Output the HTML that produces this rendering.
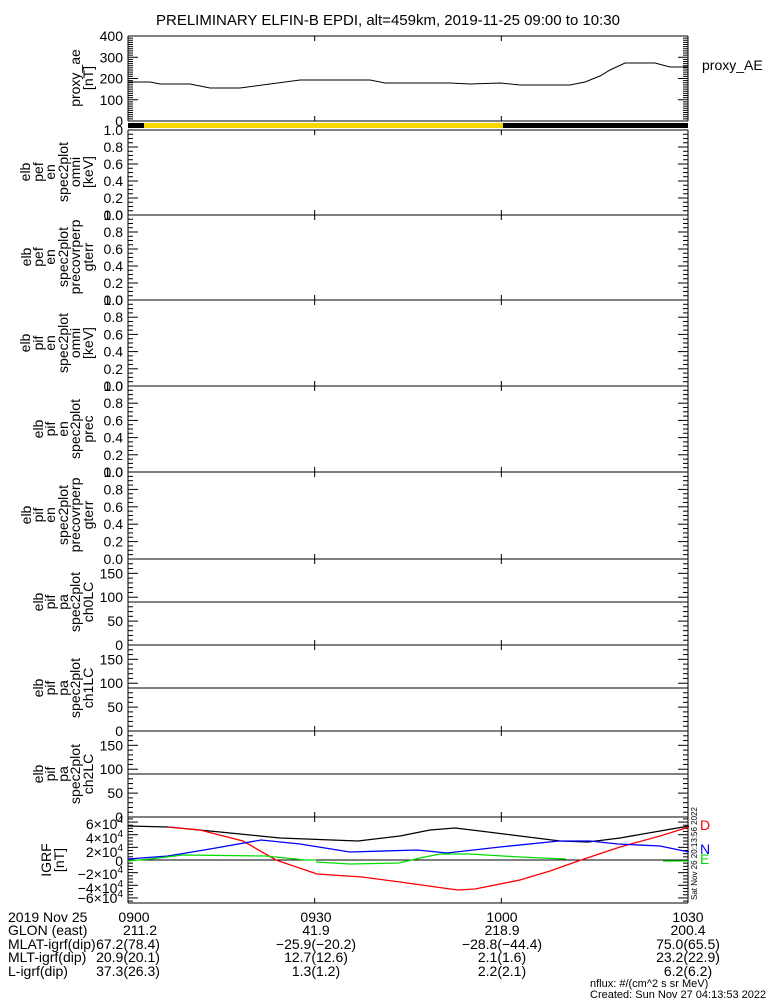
<!DOCTYPE html>
<html><head><meta charset="utf-8"><style>
body{margin:0;background:#fff}
svg{display:block;font-family:"Liberation Sans",sans-serif;font-size:14px}
</style></head><body>
<svg id="s" width="775" height="1000" viewBox="0 0 775 1000" xmlns="http://www.w3.org/2000/svg">
<rect width="775" height="1000" fill="#fff"/>
<text x="388" y="25" text-anchor="middle" font-size="15">PRELIMINARY ELFIN-B EPDI, alt=459km, 2019-11-25 09:00 to 10:30</text>
<g id="axes" stroke="#000" fill="none" stroke-width="1"></g>
<rect x="128" y="123" width="16" height="5" fill="#000"/>
<rect x="144" y="123" width="359" height="5" fill="#f5d800"/>
<rect x="503" y="123" width="185" height="5" fill="#000"/>
<polyline fill="none" stroke="#000" points="128,82 150,82 160,84 190,84 210,88 240,88 270,84 300,80 370,80 385,83 450,83 470,84 500,83 520,85 570,85 585,82 600,76 610,70 625,63 655,63 670,67 688,67"/>
<text x="702" y="70">proxy_AE</text>
<g stroke="#000"><line x1="128" x2="688" y1="602" y2="602"/><line x1="128" x2="688" y1="688" y2="688"/><line x1="128" x2="688" y1="774" y2="774"/><line x1="128" x2="688" y1="860" y2="860"/></g>
<g fill="none" stroke-width="1.3">
<polyline stroke="#000" points="128,826 168,827 220,832 280,838 358,841 400,836 430,830 455,828 480,831 520,836 560,841 588,842 620,838 660,831 689,826"/>
<polyline stroke="#f00" points="168,827 200,830 243,841 276,860 317,874 362,877 400,882 443,888 458,890 475,889 520,880 550,871 581,860 620,847 660,836 689,827"/>
<polyline stroke="#00f" points="128,859 168,856 210,849 261,840 300,844 350,852 417,850 447,853 500,847 559,841 590,841 618,844 660,846 689,852"/>
<polyline stroke="#0d0" points="128,861 150,859 183,855 265,856 306,860 316,860"/>
<polyline stroke="#0d0" points="316,862 350,864 399,863 420,858 440,854 470,854 520,857 566,859"/>
<polyline stroke="#0d0" points="663,861 689,861"/>
</g>
<text x="700" y="830" fill="#f00">D</text>
<text x="700" y="854" fill="#00f">N</text>
<text x="700" y="864" fill="#0d0">E</text>
<text transform="translate(697,900) rotate(-90)" font-size="8">Sat Nov 26 20:13:56 2022</text>
<g text-anchor="middle">
<text transform="translate(0,78) rotate(-90)"><tspan x="0" y="80">proxy_ae</tspan><tspan x="0" y="93">[nT]</tspan></text>
<text transform="translate(0,172) rotate(-90)"><tspan x="0" y="30">elb</tspan><tspan x="0" y="43">pef</tspan><tspan x="0" y="55">en</tspan><tspan x="0" y="68">spec2plot</tspan><tspan x="0" y="80">omni</tspan><tspan x="0" y="93">[keV]</tspan></text>
<text transform="translate(0,257) rotate(-90)"><tspan x="0" y="31">elb</tspan><tspan x="0" y="43">pef</tspan><tspan x="0" y="55">en</tspan><tspan x="0" y="68">spec2plot</tspan><tspan x="0" y="80">precovrperp</tspan><tspan x="0" y="93">gterr</tspan></text>
<text transform="translate(0,343) rotate(-90)"><tspan x="0" y="30">elb</tspan><tspan x="0" y="43">pif</tspan><tspan x="0" y="55">en</tspan><tspan x="0" y="68">spec2plot</tspan><tspan x="0" y="80">omni</tspan><tspan x="0" y="93">[keV]</tspan></text>
<text transform="translate(0,429) rotate(-90)"><tspan x="0" y="43">elb</tspan><tspan x="0" y="55">pif</tspan><tspan x="0" y="68">en</tspan><tspan x="0" y="80">spec2plot</tspan><tspan x="0" y="93">prec</tspan></text>
<text transform="translate(0,515) rotate(-90)"><tspan x="0" y="31">elb</tspan><tspan x="0" y="43">pif</tspan><tspan x="0" y="55">en</tspan><tspan x="0" y="68">spec2plot</tspan><tspan x="0" y="80">precovrperp</tspan><tspan x="0" y="93">gterr</tspan></text>
<text transform="translate(0,602) rotate(-90)"><tspan x="0" y="43">elb</tspan><tspan x="0" y="55">pif</tspan><tspan x="0" y="68">pa</tspan><tspan x="0" y="80">spec2plot</tspan><tspan x="0" y="93">ch0LC</tspan></text>
<text transform="translate(0,688) rotate(-90)"><tspan x="0" y="43">elb</tspan><tspan x="0" y="55">pif</tspan><tspan x="0" y="68">pa</tspan><tspan x="0" y="80">spec2plot</tspan><tspan x="0" y="93">ch1LC</tspan></text>
<text transform="translate(0,774) rotate(-90)"><tspan x="0" y="43">elb</tspan><tspan x="0" y="55">pif</tspan><tspan x="0" y="68">pa</tspan><tspan x="0" y="80">spec2plot</tspan><tspan x="0" y="93">ch2LC</tspan></text>
<text transform="translate(0,860) rotate(-90)"><tspan x="0" y="51">IGRF</tspan><tspan x="0" y="64">[nT]</tspan></text>
</g>
<g id="ticks" text-anchor="end"></g>
<g text-anchor="end">
<text x="123" y="829">6×10<tspan dy="-6" font-size="10">4</tspan></text>
<text x="123" y="843">4×10<tspan dy="-6" font-size="10">4</tspan></text>
<text x="123" y="857">2×10<tspan dy="-6" font-size="10">4</tspan></text>
<text x="123" y="866">0</text>
<text x="123" y="879">−2×10<tspan dy="-6" font-size="10">4</tspan></text>
<text x="123" y="893">−4×10<tspan dy="-6" font-size="10">4</tspan></text>
<text x="123" y="903">−6×10<tspan dy="-6" font-size="10">4</tspan></text>
</g>
<g>
<text x="8" y="922">2019 Nov 25</text>
<text x="8" y="935">GLON (east)</text>
<text x="8" y="949">MLAT-igrf(dip)</text>
<text x="8" y="962">MLT-igrf(dip)</text>
<text x="8" y="976">L-igrf(dip)</text>
</g>
<g text-anchor="middle">
<text x="134" y="922">0900</text><text x="140" y="935">211.2</text><text x="128" y="949">67.2(78.4)</text><text x="128" y="962">20.9(20.1)</text><text x="128" y="976">37.3(26.3)</text>
<text x="316" y="922">0930</text><text x="316" y="935">41.9</text><text x="316" y="949">−25.9(−20.2)</text><text x="316" y="962">12.7(12.6)</text><text x="316" y="976">1.3(1.2)</text>
<text x="502" y="922">1000</text><text x="502" y="935">218.9</text><text x="502" y="949">−28.8(−44.4)</text><text x="502" y="962">2.1(1.6)</text><text x="502" y="976">2.2(2.1)</text>
<text x="688" y="922">1030</text><text x="688" y="935">200.4</text><text x="688" y="949">75.0(65.5)</text><text x="688" y="962">23.2(22.9)</text><text x="688" y="976">6.2(6.2)</text>
</g>
<text x="590" y="987" font-size="11">nflux: #/(cm^2 s sr MeV)</text>
<text x="590" y="998" font-size="11">Created: Sun Nov 27 04:13:53 2022</text>
</svg>
<script>
var NS="http://www.w3.org/2000/svg",ax=document.getElementById('axes'),tk=document.getElementById('ticks');
function L(x1,y1,x2,y2){var l=document.createElementNS(NS,'line');l.setAttribute('x1',x1);l.setAttribute('y1',y1);l.setAttribute('x2',x2);l.setAttribute('y2',y2);ax.appendChild(l);}
function T(x,y,s){var t=document.createElementNS(NS,'text');t.setAttribute('x',x);t.setAttribute('y',y);t.textContent=s;tk.appendChild(t);}
var X0=128,X1=688;
var P=[[36,121,0,400,100,10,['0','100','200','300','400']]];
var tops=[130,215,300,386,472,559,645,731,817,903];
for(var i=0;i<5;i++)P.push([tops[i],tops[i+1],0,1,0.2,4,['0.0','0.2','0.4','0.6','0.8','1.0']]);
for(var i=5;i<8;i++)P.push([tops[i],tops[i+1],0,180,50,5,['0','50','100','150']]);
P.push([817,903,-68000,68000,20000,4,null]);
P.forEach(function(p){var t=p[0],b=p[1];
 L(X0,t,X1,t);L(X0,b,X1,b);L(X0,t,X0,b);L(X1,t,X1,b);
 var xs=[X0+(X1-X0)/3,X0+2*(X1-X0)/3];xs.forEach(function(x){L(x,t,x,t+5);L(x,b,x,b-5);});
 var sc=(b-t)/(p[3]-p[2]);
 var st=p[4]/p[5];var start=Math.ceil(p[2]/st)*st;
 for(var v=start;v<=p[3]+1e-9;v+=st){var y=b-(v-p[2])*sc;var maj=Math.abs(Math.round(v/p[4])*p[4]-v)<1e-6;var len=maj?10:5;L(X0,y,X0+len,y);L(X1,y,X1-len,y);}
 if(p[6]){p[6].forEach(function(s,k){var v=p[2]+k*p[4];var y=b-(v-p[2])*sc;T(123,y+5,s);});}
});
</script>
</body></html>
